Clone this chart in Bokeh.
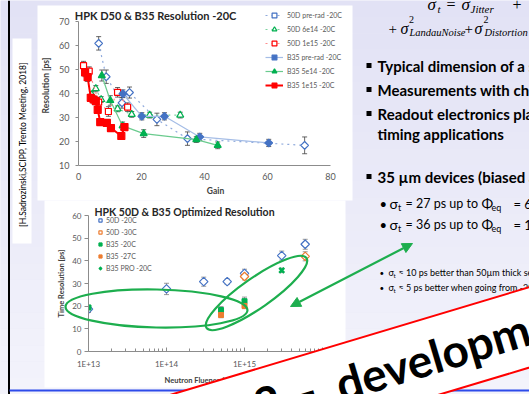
import numpy as np
from bokeh.plotting import figure
from bokeh.models import (Range1d, ColumnDataSource, Whisker, TeeHead, Legend, LegendItem,
                          FixedTicker, Arrow, NormalHead)
from bokeh.core.properties import value
from bokeh.embed import file_html
from bokeh.resources import INLINE

# ---------------- top chart data: Gain vs Resolution [ps] ----------------
top_title = "HPK D50 & B35 Resolution -20C"
top_labels = ["50D pre-rad -20C", "50D 6e14 -20C", "50D 1e15 -20C",
              "B35 pre-rad -20C", "B35 5e14 -20C", "B35 1e15 -20C"]
gain_50d_pre = [6.4, 8.8, 13.8, 16.2, 24.9, 34.6, 71.8]
res_50d_pre = [60.9, 47.0, 36.1, 40.4, 29.2, 21.2, 18.4]
err_50d_pre = [2.8, 2.8, 2.2, 2.3, 2.6, 2.8, 3.5]
gain_50d_6e14 = [4.2, 5.5, 7.2, 12.4, 16.9, 22.6, 32.3]
res_50d_6e14 = [39.5, 42.0, 37.5, 33.6, 31.3, 31.0, 31.0]
err_50d_6e14 = [1.3, 1.3, 1.2, 1.2, 1.2, 1.2, 1.2]
gain_50d_1e15 = [1.6, 3.4, 6.4, 9.5, 12.4, 15.6]
res_50d_1e15 = [51.6, 49.3, 36.4, 32.5, 40.5, 34.3]
err_50d_1e15 = [1.8, 1.8, 1.8, 2.0, 2.0, 1.8]
gain_b35_pre = [14.1, 20.1, 27.3, 38.5, 60.4]
res_b35_pre = [39.9, 30.5, 30.5, 21.9, 19.4]
err_b35_pre = [1.6, 1.5, 1.5, 1.5, 1.5]
gain_b35_5e14 = [7.4, 10.1, 14.0, 20.7, 37.4, 44.2]
res_b35_5e14 = [47.5, 37.1, 26.5, 23.3, 20.8, 18.4]
err_b35_5e14 = [2.3, 2.0, 1.6, 1.6, 1.2, 1.4]
gain_b35_1e15 = [2.1, 2.9, 3.9, 4.8, 5.5, 6.1, 6.9, 9.0, 10.3, 13.6, 14.6]
res_b35_1e15 = [48.8, 46.8, 38.2, 37.5, 36.8, 33.2, 28.1, 27.8, 25.6, 22.3, 26.0]
err_b35_1e15 = [1.8, 1.8, 1.5, 1.5, 1.5, 1.5, 1.2, 1.2, 1.2, 1.2, 1.2]
gain_ticks = [0, 20, 40, 60, 80]
res_ticks = [10, 20, 30, 40, 50, 60, 70]

# ---------------- bottom chart data: fluence vs time resolution ----------------
bot_title = "HPK 50D & B35 Optimized Resolution"
bot_labels = ["50D -20C", "50D -30C", "B35 -20C", "B35 -27C", "B35 PRO -20C"]
flu_50d_m20 = [1e13, 1e14, 3e14, 6e14, 1e15, 3e15, 6e15]
tres_50d_m20 = [18.7, 27.6, 30.8, 30.8, 34.5, 42.3, 47.3]
terr_50d_m20 = [1.5, 2.5, 2.0, 1.2, 1.8, 2.0, 2.2]
flu_50d_m30 = [1e15, 6e15]
tres_50d_m30 = [33.1, 42.0]
terr_50d_m30 = [1.5, 2.0]
flu_b35_m20 = [1e13, 5e14, 1e15]
tres_b35_m20 = [19.4, 18.3, 22.2]
terr_b35_m20 = [1.0, 1.5, 1.8]
flu_b35_m27 = [5e14, 1e15]
tres_b35_m27 = [16.1, 20.1]
terr_b35_m27 = [1.2, 1.2]
flu_b35pro_m20 = [3e15]
tres_b35pro_m20 = [35.8]
terr_b35pro_m20 = [1.0]
flu_ticks = [1e13, 1e14, 1e15, 1e16]
flu_tick_labels = ["1E+13", "1E+14", "1E+15", "1E+16"]
tres_ticks = [0, 10, 20, 30, 40, 50, 60]

# ---------------- styles ----------------
FONT = "Lato"
SERIF = "Liberation Serif"
BLUE, GREEN, RED, ORANGE = "#4472C4", "#00B050", "#FF0000", "#ED7D31"
ANN = "#1DAE4E"
W, H = 529, 394          # the slide, pinned to the window


def slide_fig():
    p = figure(width=W, height=H, x_range=Range1d(0, W), y_range=Range1d(-H, 0),
               x_axis_type=None, y_axis_type=None, toolbar_location=None,
               output_backend="svg", min_border=0)
    p.outline_line_color = None
    return p


def txt(p, x, y, s, size, style="normal", font=FONT, color="#000000", align="left",
        baseline="middle", angle=0.0):
    p.text(x=[x], y=[-y], text=[s], text_font=value(font), text_font_size=f"{size}px",
           text_font_style=style, text_color=color, text_align=align,
           text_baseline=baseline, angle=angle)


def add_err(p, x, y, e, color="#404040"):
    y = np.asarray(y, dtype=float)
    e = np.asarray(e, dtype=float)
    src = ColumnDataSource(dict(base=list(x), lower=list(y - e), upper=list(y + e)))
    p.add_layout(Whisker(source=src, base="base", lower="lower", upper="upper",
                         line_color=color, line_width=0.8,
                         upper_head=TeeHead(size=5, line_color=color, line_width=0.8),
                         lower_head=TeeHead(size=5, line_color=color, line_width=0.8)))


def style_axis(ax, tick_size, label_size):
    ax.axis_line_color = "#8C8C8C"
    ax.major_tick_line_color = "#8C8C8C"
    ax.minor_tick_line_color = "#8C8C8C"
    ax.major_label_text_font = FONT
    ax.major_label_text_font_size = tick_size
    ax.major_label_text_color = "#595959"
    ax.axis_label_text_font = FONT
    ax.axis_label_text_font_style = "bold"
    ax.axis_label_text_font_size = label_size
    ax.axis_label_text_color = "#404040"


# ================= background slide =================
bg = slide_fig()
bg.background_fill_color = "#E8E8F6"
bg.border_fill_color = "#E8E8F6"
# soft vertical gradient of the slide background
nb = 24
edges = np.linspace(0, H, nb + 1)
c0, c1 = np.array([226, 226, 245]), np.array([244, 244, 252])
cols = ["#%02x%02x%02x" % tuple(int(v) for v in c0 + (c1 - c0) * (i + 0.5) / nb) for i in range(nb)]
bg.quad(left=[0] * nb, right=[W] * nb, top=list(-edges[:-1]), bottom=list(-edges[1:]),
        fill_color=cols, line_color=None)
bg.segment(x0=[8.5], y0=[0], x1=[8.5], y1=[-400], line_color="#000000", line_width=2)
bg.segment(x0=[9], y0=[-390], x1=[529], y1=[-390], line_color="#2D4BEA", line_width=2)
bg.quad(left=[12, 37, 44], right=[31, 352, 345], top=[-38, -5, -200], bottom=[-243, -200, -387],
        fill_color="white", line_color=None)
txt(bg, 22, 144, "[H.Sadrozinski,SCIPP, Trento Meeting, 2018]", 8.5, align="center",
    angle=np.pi / 2)
txt(bg, 155, 15, top_title, 11, "bold", color="#262626", align="center")
txt(bg, 184, 211, bot_title, 10.5, "bold", color="#262626", align="center")

# formula (top right)
txt(bg, 427, 4, "σ", 17, "italic", SERIF, baseline="alphabetic")
txt(bg, 437, 8, "t", 11, "italic", SERIF, baseline="alphabetic")
txt(bg, 446, 4, "=", 16, "normal", SERIF, baseline="alphabetic")
txt(bg, 461, 4, "σ", 17, "italic", SERIF, baseline="alphabetic")
txt(bg, 470, 8.5, "Jitter", 11, "italic", SERIF, baseline="alphabetic")
txt(bg, 512, 4, "+", 16, "normal", SERIF, baseline="alphabetic")
txt(bg, 388, 28, "+", 15, "normal", SERIF, baseline="alphabetic")
txt(bg, 400, 28, "σ", 16, "italic", SERIF, baseline="alphabetic")
txt(bg, 408.5, 19, "2", 10, "normal", SERIF, baseline="alphabetic")
txt(bg, 409, 32, "LandauNoise", 10.5, "italic", SERIF, baseline="alphabetic")
txt(bg, 464, 28, "+", 15, "normal", SERIF, baseline="alphabetic")
txt(bg, 474, 28, "σ", 16, "italic", SERIF, baseline="alphabetic")
txt(bg, 483, 19, "2", 10, "normal", SERIF, baseline="alphabetic")
txt(bg, 484, 32, "Distortion", 10.5, "italic", SERIF, baseline="alphabetic")

# bullets
bullet_rows = [(65, "Typical dimension of a single pad: 1.3 x 1.3 mm²", True),
               (89, "Measurements with charged particles", True),
               (113, "Readout electronics plays a key role in", True),
               (133, "timing applications", False),
               (176, "35 µm devices (biased at high voltage)", True)]
for yy, s, has_b in bullet_rows:
    if has_b:
        bg.scatter(x=[368.5], y=[-yy], marker="square", size=5, fill_color="#000000", line_color=None)
    txt(bg, 377, yy, s, 15, "bold")

for yy, num, flu in [(203, "27", "6·10¹⁴"), (224, "36", "1·10¹⁵")]:
    txt(bg, 379, yy, "•", 13)
    txt(bg, 389, yy, "σ", 14)
    txt(bg, 397.5, yy + 4, "t", 9)
    txt(bg, 405, yy, f"= {num} ps up to", 12.5)
    txt(bg, 481, yy, "Φ", 14)
    txt(bg, 491, yy + 4, "eq", 9)
    txt(bg, 513, yy, f"= {flu} n/cm²", 13)

for yy, s in [(272, "≈ 10 ps better than 50µm thick sensors"),
              (287, "≈ 5 ps better when going from -20C to -30C")]:
    txt(bg, 379, yy, "•", 8)
    txt(bg, 388, yy, "σ", 9)
    txt(bg, 393, yy + 2.5, "t", 6)
    txt(bg, 398, yy, s, 9)

# ================= top chart =================
# frame spans the whole white box to the right/top so that the legend is not clipped;
# the axes are bounded to the printed scale (0-80, 10-70)
top = figure(width=315, height=195, x_range=Range1d(0, 87.0), y_range=Range1d(10, 76.67),
             toolbar_location=None, output_backend="svg",
             min_border_left=41, min_border_right=0, min_border_top=0, min_border_bottom=35)
top.background_fill_alpha = 0
top.border_fill_alpha = 0
top.outline_line_color = None
top.grid.visible = False
top.xaxis.axis_label = "Gain"
top.yaxis.axis_label = "Resolution [ps]"
top.xaxis.ticker = FixedTicker(ticks=gain_ticks)
top.yaxis.ticker = FixedTicker(ticks=res_ticks)
top.xaxis.bounds = (gain_ticks[0], gain_ticks[-1])
top.yaxis.bounds = (res_ticks[0], res_ticks[-1])
style_axis(top.xaxis[0], "9px", "8.5px")
style_axis(top.yaxis[0], "9px", "8.5px")
top.xaxis.major_tick_out = 0
top.xaxis.major_tick_in = 0
top.xaxis.major_label_standoff = 7
top.xaxis.axis_label_standoff = 3
top.yaxis.major_tick_out = 3
top.yaxis.major_tick_in = 0
top.yaxis.major_label_standoff = 6
top.yaxis.axis_label_standoff = 5

top_data = [(gain_50d_pre, res_50d_pre, err_50d_pre),
            (gain_50d_6e14, res_50d_6e14, err_50d_6e14),
            (gain_50d_1e15, res_50d_1e15, err_50d_1e15),
            (gain_b35_pre, res_b35_pre, err_b35_pre),
            (gain_b35_5e14, res_b35_5e14, err_b35_5e14),
            (gain_b35_1e15, res_b35_1e15, err_b35_1e15)]
top_style = [
    dict(marker="square", angle=np.pi / 4, size=5.5, color=BLUE, filled=False, lc="#8FAADC", lw=1.2, dash="dotted"),
    dict(marker="triangle", angle=0.0, size=7, color=GREEN, filled=False, lc="#7FD3A0", lw=1.2, dash="dotted"),
    dict(marker="square", angle=0.0, size=6, color=RED, filled=False, lc="#FF8C8C", lw=1.2, dash="dotted"),
    dict(marker="square", angle=np.pi / 4, size=5.5, color=BLUE, filled=True, lc="#A5BDE6", lw=1.2, dash="solid"),
    dict(marker="triangle", angle=0.0, size=7, color=GREEN, filled=True, lc="#6ACB8E", lw=1.2, dash="solid"),
    dict(marker="square", angle=0.0, size=7, color=RED, filled=True, lc=RED, lw=2, dash="solid"),
]
items = []
for (xs, ys, es), st, lab in zip(top_data, top_style, top_labels):
    lr = top.line(xs, ys, line_color=st["lc"], line_width=st["lw"], line_dash=st["dash"])
    add_err(top, xs, ys, es)
    sr = top.scatter(xs, ys, marker=st["marker"], angle=st["angle"], size=st["size"],
                     fill_color=st["color"] if st["filled"] else "white",
                     line_color=st["color"], line_width=1.2)
    items.append(LegendItem(label=lab, renderers=[lr, sr]))
top_leg = Legend(items=items, location=(187, 74), orientation="vertical", glyph_width=18,
                 glyph_height=12, label_height=12, spacing=2, padding=0, margin=0,
                 label_standoff=4, label_text_font=FONT, label_text_font_size="7px",
                 label_text_color="#595959", border_line_color=None, background_fill_alpha=0)
top.add_layout(top_leg, "center")

# ================= bottom chart =================
bot = figure(width=301, height=187, x_axis_type="log", x_range=Range1d(1e13, 1e16),
             y_range=Range1d(0, 60), toolbar_location=None, output_backend="svg",
             min_border_left=44, min_border_right=23, min_border_top=15, min_border_bottom=33)
bot.background_fill_alpha = 0
bot.border_fill_alpha = 0
bot.outline_line_color = None
bot.grid.visible = False
bot.xaxis.axis_label = "Neutron Fluence [n/cm²]"
bot.yaxis.axis_label = "Time Resolution [ps]"
minor = [k * t for t in flu_ticks[:-1] for k in range(2, 10)]
bot.xaxis.ticker = FixedTicker(ticks=flu_ticks, minor_ticks=minor)
bot.xaxis.major_label_overrides = {t: l for t, l in zip(flu_ticks, flu_tick_labels)}
bot.yaxis.ticker = FixedTicker(ticks=tres_ticks)
style_axis(bot.xaxis[0], "8px", "7.5px")
style_axis(bot.yaxis[0], "8px", "7.5px")
bot.xaxis.major_tick_out = 0
bot.xaxis.major_tick_in = 4
bot.xaxis.minor_tick_out = 0
bot.xaxis.minor_tick_in = 3
bot.xaxis.major_label_standoff = 7
bot.xaxis.axis_label_standoff = 4
bot.yaxis.major_tick_out = 4
bot.yaxis.major_tick_in = 0
bot.yaxis.major_label_standoff = 3
bot.yaxis.axis_label_standoff = 3

bot_data = [(flu_50d_m20, tres_50d_m20, terr_50d_m20),
            (flu_50d_m30, tres_50d_m30, terr_50d_m30),
            (flu_b35_m20, tres_b35_m20, terr_b35_m20),
            (flu_b35_m27, tres_b35_m27, terr_b35_m27),
            (flu_b35pro_m20, tres_b35pro_m20, terr_b35pro_m20)]
bot_style = [
    dict(marker="square", angle=np.pi / 4, size=6, color=BLUE, filled=False, lw=1.2),
    dict(marker="square", angle=np.pi / 4, size=6, color=ORANGE, filled=False, lw=1.2),
    dict(marker="square", angle=0.0, size=5, color=GREEN, filled=True, lw=1),
    dict(marker="square", angle=0.0, size=5, color=ORANGE, filled=True, lw=1),
    dict(marker="x", angle=0.0, size=7, color=GREEN, filled=True, lw=2.5),
]
bitems = []
for (xs, ys, es), st, lab in zip(bot_data, bot_style, bot_labels):
    add_err(bot, xs, ys, es, "#7F7F7F")
    sr = bot.scatter(xs, ys, marker=st["marker"], angle=st["angle"], size=st["size"],
                     fill_color=st["color"] if st["filled"] else "white",
                     line_color=st["color"], line_width=st["lw"])
    bitems.append(LegendItem(label=lab, renderers=[sr]))
bot_leg = Legend(items=bitems, location=(8, 78), orientation="vertical", glyph_width=8,
                 glyph_height=10, label_height=10, spacing=2, padding=0, margin=0,
                 label_standoff=2, label_text_font=FONT, label_text_font_size="7px",
                 label_text_color="#595959", border_line_color=None, background_fill_alpha=0)
bot.add_layout(bot_leg, "center")

# ================= overlay: hand-drawn marks and banner =================
ov = slide_fig()
ov.background_fill_alpha = 0
ov.border_fill_alpha = 0
ov.ellipse(x=[156, 256], y=[-308, -292.5], width=[182, 122], height=[38, 30],
           angle=[-0.02, np.deg2rad(35)], fill_alpha=0, line_color=ANN, line_width=2.2)
ov.add_layout(Arrow(start=NormalHead(size=10, fill_color=ANN, line_color=ANN),
                    end=NormalHead(size=10, fill_color=ANN, line_color=ANN),
                    x_start=290, y_start=-306, x_end=412, y_end=-243,
                    line_color=ANN, line_width=2.2))
ban_ang = np.arctan(0.3)
ov.rect(x=[400], y=[-365.5], width=[700], height=[77], angle=[ban_ang],
        fill_color="white", line_color=RED, line_width=2)
txt(ov, 316, 387, "2 –", 46, "bold", align="right", angle=ban_ang)
txt(ov, 336, 384.7, "development", 46, "bold", align="left", angle=ban_ang)

# ================= stack the four figures on the slide =================
for f, (l, t) in [(bg, (0, 0)), (top, (37, 5)), (bot, (44, 200)), (ov, (0, 0))]:
    f.styles = {"position": "absolute", "left": f"{l}px", "top": f"{t}px"}

open("out.html", "w").write(file_html([bg, top, bot, ov], INLINE))
